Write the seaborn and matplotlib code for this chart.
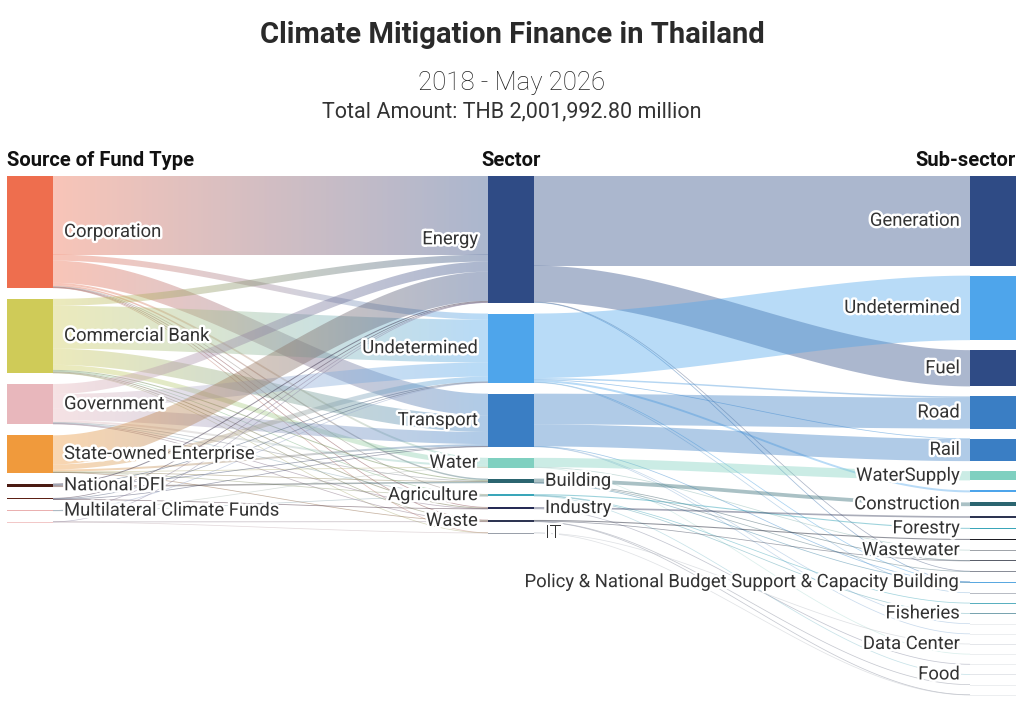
import numpy as np
import matplotlib.pyplot as plt
import matplotlib.patheffects as pe
from matplotlib.path import Path
from matplotlib.patches import PathPatch, Rectangle
import seaborn as sns

sns.set_theme(style="white")
plt.rcParams['font.family'] = ['Roboto', 'DejaVu Sans']

# ---------------- data (million THB) ----------------
sources = ["Corporation", "Commercial Bank", "Government", "State-owned Enterprise",
           "National DFI", "Other DFI", "Multilateral Climate Funds", "Other Funds"]
source_colors = ["#ee6e4e", "#cfcb58", "#e8b7bc", "#f09a3c",
                 "#4a1a12", "#5c2015", "#eab0b0", "#f2c8c8"]
hidden_sources = ["Other DFI", "Other Funds"]

sectors = ["Energy", "Undetermined", "Transport", "Water", "Building",
           "Agriculture", "Industry", "Waste", "IT"]
sector_colors = ["#2f4b85", "#4ea5eb", "#3a7ec4", "#7fd0c0", "#2b6570",
                 "#3aa6b9", "#262b55", "#2e3552", "#9aa0aa"]
sector_label_right = ["Building", "Industry", "IT"]

# source -> sector, ordered like `sectors`
corporation     = [585000,  45000, 165000, 15000,  11000, 3800, 4500, 2300, 800]
commercial_bank = [ 52000, 319000, 120000, 37500,   7500, 4500, 6800, 3800, 700]
government      = [ 75000, 105000,  90000, 15000,   3700, 4500, 1500, 5200,   0]
state_owned     = [217000,  37500,  15000,  4500,    800,  800,    0, 1500,   0]
national_dfi    = [  7500,   3700,   3700,     0,  11200,    0,    0,    0,   0]
other_dfi       = [  4000,   3500,   2000,     0,      0,    0, 1000,    0,   0]
multilateral    = [   800,    700,      0,   400,      0,  600,    0,    0,   0]
other_funds     = [   500,      0,      0,     0,      0,    0,    0,  600, 400]
source_to_sector = [corporation, commercial_bank, government, state_owned,
                    national_dfi, other_dfi, multilateral, other_funds]

POLICY = "Policy & National Budget Support & Capacity Building"
sub_sectors = ["Generation", "Undetermined", "Fuel", "Road", "Rail", "WaterSupply",
               "unlabelled 1", "Construction", "unlabelled 2", "Forestry", "unlabelled 3",
               "Wastewater", "unlabelled 4", "unlabelled 5", POLICY, "unlabelled 6",
               "unlabelled 7", "Fisheries", "unlabelled 8", "unlabelled 9", "Data Center",
               "unlabelled 10", "unlabelled 11", "Food", "unlabelled 12", "unlabelled 13"]
sub_colors = ["#2f4b85", "#4ea5eb", "#2f4b85", "#3a7ec4", "#3a7ec4", "#7fd0c0",
              "#4ea5eb", "#2b6570", "#2e3552", "#3aa6b9", "#1e1e24",
              "#a0a4aa", "#5a5e6a", "#8a8e98", "#5aa8e0", "#b8bcc4",
              "#5ab0c0", "#7aa4b0", "#eceef0", "#eceef0", "#e4e6ea",
              "#eceef0", "#eceef0", "#e4e6ea", "#eceef0", "#eceef0"]

energy_subs = {"Generation": 667000, "Fuel": 270000, "unlabelled 5": 2300, POLICY: 2500}
undetermined_subs = {"Undetermined": 480000, "unlabelled 1": 15000, "Road": 11000,
                     "Rail": 4000, POLICY: 2400, "unlabelled 6": 2000}
transport_subs = {"Road": 228000, "Rail": 164000, "unlabelled 8": 1500, POLICY: 1200,
                  "unlabelled 9": 1000}
water_subs = {"WaterSupply": 69000, "Wastewater": 2400, "unlabelled 10": 1000}
building_subs = {"Construction": 28000, "unlabelled 4": 3000, POLICY: 1500, "unlabelled 5": 1700}
agriculture_subs = {"Forestry": 8000, "unlabelled 7": 3000, "Fisheries": 2200, "Food": 1000}
industry_subs = {"unlabelled 2": 12500, "unlabelled 11": 1300}
waste_subs = {"unlabelled 3": 8000, "unlabelled 4": 2500, "unlabelled 12": 1500, "unlabelled 13": 1400}
it_subs = {"Data Center": 1200, "unlabelled 13": 700}
sector_to_sub = [energy_subs, undetermined_subs, transport_subs, water_subs, building_subs,
                 agriculture_subs, industry_subs, waste_subs, it_subs]

# ---------------- layout ----------------
col_x = [7, 488, 970]
col_pad = [11, 11, 10]
node_w = 46
top, bottom = 176, 695
alpha = 0.4

links1 = [(i, j, v) for i, row in enumerate(source_to_sector) for j, v in enumerate(row) if v > 0]
links2 = [(j, sub_sectors.index(k), v) for j, d in enumerate(sector_to_sub) for k, v in d.items()]

val_src = [sum(r) for r in source_to_sector]
val_sec = [max(sum(v for i, j, v in links1 if j == s), sum(v for j, k, v in links2 if j == s))
           for s in range(len(sectors))]
val_sub = [sum(v for j, k, v in links2 if k == s) for s in range(len(sub_sectors))]
columns = [val_src, val_sec, val_sub]

scale = min((bottom - top - (len(c) - 1) * p) / sum(c) for c, p in zip(columns, col_pad))


def stack(values, pad):
    y, out = top, []
    for v in values:
        out.append(y)
        y += v * scale + pad
    return out


node_y = [stack(c, p) for c, p in zip(columns, col_pad)]


def link_positions(links, y_left, y_right):
    start, end = {}, {}
    cur = dict(enumerate(y_left))
    for a, b, v in sorted(links, key=lambda l: (l[0], l[1])):
        start[(a, b)] = cur[a]
        cur[a] += v * scale
    cur = dict(enumerate(y_right))
    for a, b, v in sorted(links, key=lambda l: (l[1], l[0])):
        end[(a, b)] = cur[b]
        cur[b] += v * scale
    return start, end


fig = plt.figure(figsize=(10.24, 7.04), dpi=100)
ax = fig.add_axes([0, 0, 1, 1])

t = np.linspace(0, 1, 80)
smooth = 3 * t ** 2 - 2 * t ** 3


def draw_link(x0, x1, y0, y1, w, c0, c1):
    xs = x0 + (x1 - x0) * t
    ytop = y0 + (y1 - y0) * smooth
    if w < 1.3:
        rgb = (np.array(sns.color_palette([c0])[0]) + np.array(sns.color_palette([c1])[0])) / 2
        ax.plot(xs, ytop + w / 2, color=rgb, alpha=0.5, lw=max(w, 0.75) * 0.72,
                solid_capstyle='butt', zorder=1)
        return
    verts = np.vstack([np.column_stack([xs, ytop]), np.column_stack([xs[::-1], ytop[::-1] + w])])
    path = Path(np.vstack([verts, verts[:1]]), closed=True)
    if c0 == c1:
        ax.add_patch(PathPatch(path, facecolor=c0, edgecolor='none', alpha=alpha, zorder=1))
        return
    patch = PathPatch(path, facecolor='none', edgecolor='none')
    ax.add_patch(patch)
    cmap = sns.blend_palette([c0, c1], as_cmap=True)
    im = ax.imshow(np.linspace(0, 1, 128)[None, :], cmap=cmap, aspect='auto', alpha=alpha,
                   extent=(x0, x1, min(y0, y1) - 1, max(y0, y1) + w + 1),
                   interpolation='bilinear', zorder=1)
    im.set_clip_path(patch)


# links
s1, e1 = link_positions(links1, node_y[0], node_y[1])
for a, b, v in links1:
    draw_link(col_x[0] + node_w, col_x[1], s1[(a, b)], e1[(a, b)], v * scale,
              source_colors[a], sector_colors[b])
s2, e2 = link_positions(links2, node_y[1], node_y[2])
for a, b, v in links2:
    draw_link(col_x[1] + node_w, col_x[2], s2[(a, b)], e2[(a, b)], v * scale,
              sector_colors[a], sub_colors[b])

# nodes
halo = [pe.withStroke(linewidth=3.5, foreground='white')]
lab = dict(fontsize=13.3, color='#333333', va='center', path_effects=halo, zorder=5)
for ci, (names, colors) in enumerate([(sources, source_colors), (sectors, sector_colors),
                                      (sub_sectors, sub_colors)]):
    for k, name in enumerate(names):
        h = columns[ci][k] * scale
        y = node_y[ci][k]
        ax.add_patch(Rectangle((col_x[ci], y), node_w, max(h, 1.0), facecolor=colors[k],
                               edgecolor='none', zorder=3))
        if name.startswith("unlabelled") or name in hidden_sources:
            continue
        yc = y + h / 2
        if ci == 0:
            ax.text(col_x[0] + node_w + 11, yc, name, ha='left', **lab)
        elif ci == 1 and name in sector_label_right:
            ax.text(col_x[1] + node_w + 11, yc, name, ha='left', **lab)
        else:
            ax.text(col_x[ci] - 10, yc, name, ha='right', **lab)

# headers and titles
hdr = dict(fontsize=14.5, fontweight='bold', color='#111111', va='center')
ax.text(7, 160, "Source of Fund Type", ha='left', **hdr)
ax.text(col_x[1] + node_w / 2, 160, "Sector", ha='center', **hdr)
ax.text(col_x[2] + node_w, 160, "Sub-sector", ha='right', **hdr)

ax.text(512, 35, "Climate Mitigation Finance in Thailand", ha='center', va='center',
        fontsize=21, fontweight='bold', color='#2a2a2a')
ax.text(512, 83, "2018 - May 2026", ha='center', va='center', fontsize=18.5,
        fontweight='light', color='#222222')
ax.text(512, 112, "Total Amount: THB 2,001,992.80 million", ha='center', va='center',
        fontsize=15.5, color='#333333')

ax.set_xlim(0, 1024)
ax.set_ylim(704, 0)
ax.axis('off')
fig.savefig("out.png", dpi=100, facecolor='white')
